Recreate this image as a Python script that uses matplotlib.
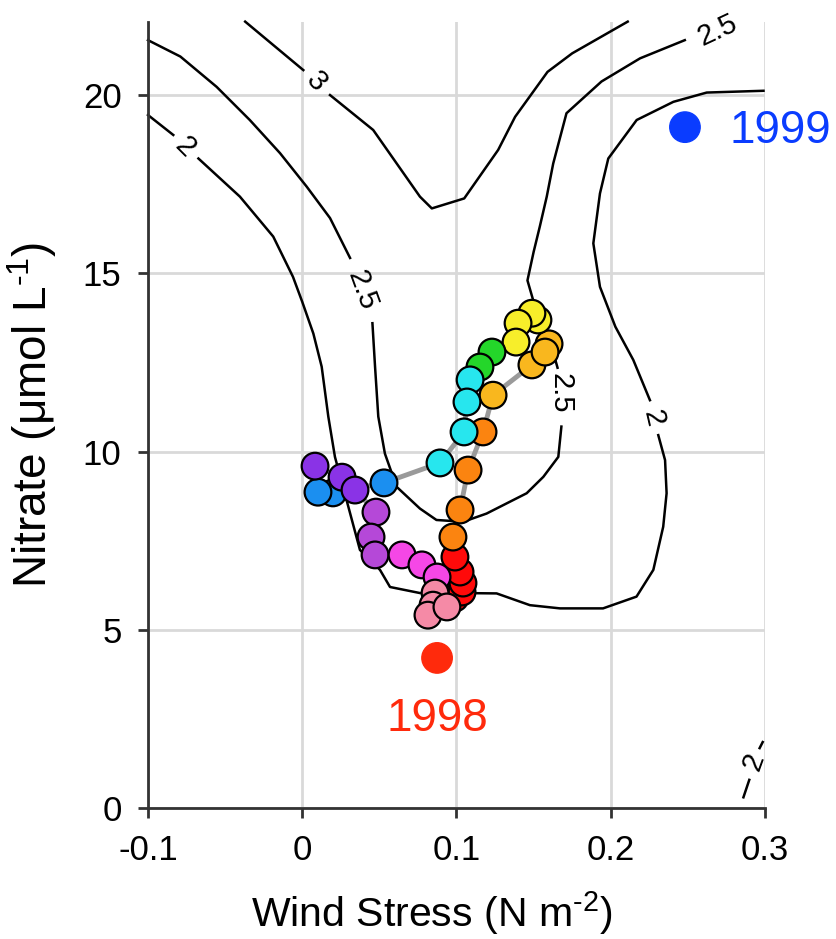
import numpy as np
import matplotlib.pyplot as plt

plt.rcParams['font.family'] = ['Liberation Sans', 'DejaVu Sans']
plt.rcParams['mathtext.fontset'] = 'custom'
plt.rcParams['mathtext.rm'] = 'Liberation Sans'

# seasonal track: wind stress (N m-2) vs nitrate (umol/L)
track_x = [0.0990, 0.1036, 0.1042, 0.1023, 0.0990,
           0.0977, 0.1023, 0.1075, 0.1172,
           0.1237, 0.1489, 0.1600, 0.1574,
           0.1528, 0.1489, 0.1399, 0.1386,
           0.1230, 0.1152,
           0.1088, 0.1068, 0.1049, 0.0893,
           0.0530, 0.0199, 0.0102,
           0.0083, 0.0258, 0.0342,
           0.0478, 0.0446, 0.0472,
           0.0647, 0.0776, 0.0874,
           0.0861, 0.0848, 0.0815, 0.0938]
track_y = [5.89, 6.06, 6.31, 6.62, 7.04,
           7.60, 8.36, 9.48, 10.55,
           11.58, 12.43, 13.02, 12.79,
           13.69, 13.88, 13.60, 13.07,
           12.79, 12.37,
           12.01, 11.39, 10.55, 9.68,
           9.12, 8.84, 8.86,
           9.59, 9.28, 8.92,
           8.30, 7.60, 7.10,
           7.10, 6.82, 6.48,
           6.03, 5.69, 5.41, 5.64]
track_colors = (['#ff0a0a'] * 5 + ['#fb8410'] * 4 + ['#f9b71e'] * 4 +
                ['#f7ee2a'] * 4 + ['#24d62a'] * 2 + ['#27e6ee'] * 4 +
                ['#1b8ff0'] * 3 + ['#8a33e6'] * 3 + ['#b548d8'] * 3 +
                ['#f547e6'] * 3 + ['#f58aa6'] * 4)

# year reference points
years = ['1998', '1999']
year_x = [0.0874, 0.2481]
year_y = [4.21, 19.10]
year_colors = ['#ff2a0c', '#0a3cff']

# contour lines (nan = gap for inline label)
nan = np.nan
c3_x = [-0.037, 0.0007, nan, 0.018, 0.046, 0.0763, 0.084, 0.105, 0.127, 0.138, 0.159, 0.175, 0.211]
c3_y = [22.06, 20.70, nan, 20.00, 19.02, 17.15, 16.82, 17.10, 18.46, 19.39, 20.65, 21.17, 22.06]

c25_x = [-0.1, -0.079, -0.0555, -0.034, -0.0144, 0.0029, 0.018, 0.031, nan,
         0.0455, 0.0472, 0.0493, 0.0536, 0.0612, 0.0763, 0.087, 0.1044, 0.1195,
         0.1455, 0.1563, 0.166, 0.168, nan,
         0.1655, 0.160, 0.150, 0.146, 0.150, 0.154, 0.1585, 0.1627, 0.1713,
         0.1940, 0.219, 0.248]
c25_y = [21.54, 21.08, 20.23, 19.30, 18.37, 17.43, 16.55, 15.43, nan,
         13.60, 12.38, 10.98, 9.94, 9.01, 8.40, 8.08, 8.03, 8.26,
         8.83, 9.29, 9.85, 10.70, nan,
         12.35, 13.20, 14.20, 14.80, 15.60, 16.31, 17.15, 18.08, 19.49,
         20.38, 21.03, 21.54]

c2_x = [-0.1, -0.0836, nan,
        -0.0673, -0.0404, -0.0188, -0.006, 0.0, 0.0072, 0.0126, 0.0169, 0.0212,
        0.0299, 0.0374, 0.0504, 0.0569, 0.0763, 0.1023, 0.126, 0.1476, 0.1671,
        0.195, 0.2167, 0.2276, 0.234, 0.2362, 0.2352, 0.2308, nan,
        0.2254, 0.2146, 0.203, 0.193, 0.1887, 0.193, 0.1984, 0.2168, 0.2406,
        0.2622, 0.299, nan,
        0.286, 0.2898, nan, 0.2965, 0.2985]
c2_y = [19.44, 18.88, nan,
        18.22, 17.15, 16.03, 14.90, 14.20, 13.31, 12.38, 10.98, 9.85,
        8.45, 7.24, 6.68, 6.20, 6.03, 6.03, 6.02, 5.69, 5.60,
        5.60, 5.93, 6.68, 7.89, 8.83, 9.76, 10.46, nan,
        11.44, 12.57, 13.50, 14.62, 15.84, 17.24, 18.22, 19.30, 19.81,
        20.07, 20.12, nan,
        0.30, 0.79, nan, 1.68, 1.85]

clabel_text = ['3', '2.5', '2.5', '2.5', '2', '2', '2']
clabel_x = [0.0093, 0.0385, 0.1671, 0.2695, -0.076, 0.2276, 0.2925]
clabel_y = [20.37, 14.53, 11.63, 21.82, 18.55, 10.93, 1.30]
clabel_rot = [-48, -70, -90, 25, -45, -77, 70]

xticks = [-0.1, 0, 0.1, 0.2, 0.3]
xticklabels = ['-0.1', '0', '0.1', '0.2', '0.3']
yticks = [0, 5, 10, 15, 20]

fig = plt.figure(figsize=(8.37, 9.39), dpi=100)
ax = fig.add_axes([0.1768, 0.1395, 0.7372, 0.8371])

ax.set_xlim(-0.1, 0.3)
ax.set_ylim(0, 22.05)
ax.set_xticks(xticks)
ax.set_xticklabels(xticklabels)
ax.set_yticks(yticks)
ax.grid(True, color='#d9d9d9', linewidth=2)
ax.set_axisbelow(True)

for s in ['top', 'right']:
    ax.spines[s].set_visible(False)
for s in ['left', 'bottom']:
    ax.spines[s].set_color('#333333')
    ax.spines[s].set_linewidth(2)
ax.tick_params(direction='out', length=7, width=2, color='#333333',
               labelsize=25, pad=12)

# contours
for cx, cy in [(c3_x, c3_y), (c25_x, c25_y), (c2_x, c2_y)]:
    ax.plot(cx, cy, color='black', linewidth=1.8, zorder=2, clip_on=False)
for t, x, y, r in zip(clabel_text, clabel_x, clabel_y, clabel_rot):
    ax.text(x, y, t, fontsize=21, rotation=r, ha='center', va='center',
            rotation_mode='anchor', zorder=2, clip_on=False)

# track
ax.plot(track_x, track_y, color='#9a9a9a', linewidth=3.5, zorder=3)
ax.scatter(track_x, track_y, s=370, c=track_colors, edgecolors='black',
           linewidths=1.6, zorder=4)

# years
ax.scatter(year_x, year_y, s=480, c=year_colors, zorder=4, clip_on=False)
ax.text(year_x[0], year_y[0] - 1.7, years[0], color=year_colors[0],
        fontsize=33, ha='center', va='center')
ax.text(year_x[1] + 0.029, year_y[1] - 0.12, years[1], color=year_colors[1],
        fontsize=33, ha='left', va='center', clip_on=False)

ax.set_xlabel('Wind Stress (N m$^{\\mathregular{\u20102}}$)', fontsize=29.5)
ax.set_ylabel('Nitrate (\u03bcmol L$^{\\mathregular{\u20101}}$)', fontsize=33)
ax.xaxis.set_label_coords(0.46, -0.103)
ax.yaxis.set_label_coords(-0.145, 0.5)

plt.savefig('out.png', dpi=100)
